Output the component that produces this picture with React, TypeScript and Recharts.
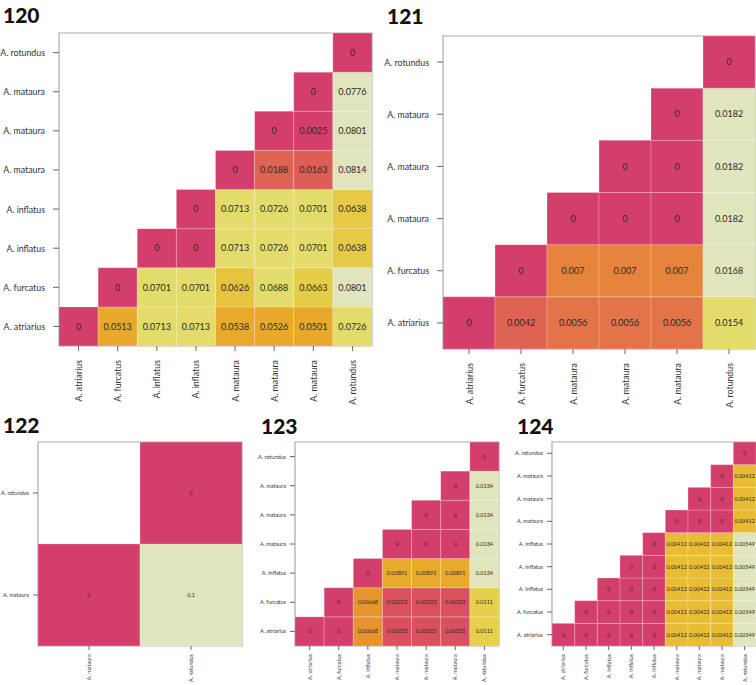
import React from 'react';
import { ScatterChart, XAxis, YAxis, ReferenceArea } from 'recharts';

// ---------- DATA ----------
const labels120 = ['A. atriarius', 'A. furcatus', 'A. inflatus', 'A. inflatus', 'A. mataura', 'A. mataura', 'A. mataura', 'A. rotundus'];
const values120 = [
  [0, 0.0513, 0.0713, 0.0713, 0.0538, 0.0526, 0.0501, 0.0726],
  [0, 0.0701, 0.0701, 0.0626, 0.0688, 0.0663, 0.0801],
  [0, 0, 0.0713, 0.0726, 0.0701, 0.0638],
  [0, 0.0713, 0.0726, 0.0701, 0.0638],
  [0, 0.0188, 0.0163, 0.0814],
  [0, 0.0025, 0.0801],
  [0, 0.0776],
  [0],
];

const labels121 = ['A. atriarius', 'A. furcatus', 'A. mataura', 'A. mataura', 'A. mataura', 'A. rotundus'];
const values121 = [
  [0, 0.0042, 0.0056, 0.0056, 0.0056, 0.0154],
  [0, 0.007, 0.007, 0.007, 0.0168],
  [0, 0, 0, 0.0182],
  [0, 0, 0.0182],
  [0, 0.0182],
  [0],
];

const labels122 = ['A. mataura', 'A. rotundus'];
const values122 = [
  [0, 0.1],
  [0],
];

const labels123 = ['A. atriarius', 'A. furcatus', 'A. inflatus', 'A. mataura', 'A. mataura', 'A. mataura', 'A. rotundus'];
const values123 = [
  [0, 0, 0.00668, 0.00223, 0.00223, 0.00223, 0.0111],
  [0, 0.00668, 0.00223, 0.00223, 0.00223, 0.0111],
  [0, 0.00891, 0.00891, 0.00891, 0.0134],
  [0, 0, 0, 0.0134],
  [0, 0, 0.0134],
  [0, 0.0134],
  [0],
];

const labels124 = ['A. atriarius', 'A. furcatus', 'A. inflatus', 'A. inflatus', 'A. inflatus', 'A. mataura', 'A. mataura', 'A. mataura', 'A. rotundus'];
const values124 = [
  [0, 0, 0, 0, 0, 0.00412, 0.00412, 0.00412, 0.00549],
  [0, 0, 0, 0, 0.00412, 0.00412, 0.00412, 0.00549],
  [0, 0, 0, 0.00412, 0.00412, 0.00412, 0.00549],
  [0, 0, 0.00412, 0.00412, 0.00412, 0.00549],
  [0, 0.00412, 0.00412, 0.00412, 0.00549],
  [0, 0, 0, 0.00412],
  [0, 0, 0.00412],
  [0, 0.00412],
  [0],
];

const panelTitles = ['120', '121', '122', '123', '124'];

// ---------- STYLE ----------
const FONT = 'Lato, "Open Sans", sans-serif';

const heatStops: [number, string][] = [
  [0, '#D33F6A'],
  [0.1, '#D33F6A'],
  [0.166, '#D9515E'],
  [0.2, '#DD5E55'],
  [0.23, '#DF6352'],
  [0.31, '#E3744A'],
  [0.385, '#E5843A'],
  [0.5, '#E79430'],
  [0.6, '#E8A82A'],
  [0.665, '#E8AA2A'],
  [0.75, '#E8BC35'],
  [0.78, '#E6C945'],
  [0.83, '#E6CF4A'],
  [0.845, '#E3DC6A'],
  [0.895, '#E3DC6A'],
  [0.92, '#E1E5BD'],
  [1, '#E1E5BD'],
];

function hexToRgb(h: string) {
  const n = parseInt(h.slice(1), 16);
  return [(n >> 16) & 255, (n >> 8) & 255, n & 255];
}

function heatColor(f: number) {
  for (let i = 1; i < heatStops.length; i++) {
    const [f1, c1] = heatStops[i];
    const [f0, c0] = heatStops[i - 1];
    if (f <= f1) {
      const t = f1 === f0 ? 0 : (f - f0) / (f1 - f0);
      const a = hexToRgb(c0);
      const b = hexToRgb(c1);
      const m = a.map((v, k) => Math.round(v + (b[k] - v) * t));
      return `rgb(${m[0]},${m[1]},${m[2]})`;
    }
  }
  return heatStops[heatStops.length - 1][1];
}

type Cfg = {
  left: number; top: number; width: number; height: number;
  mTop: number; mRight: number; mBottom: number;
  yw: number; xh: number;
  axisFs: number; cellFs: number;
  yTickSize: number; yTickMargin: number;
  xTickSize: number; xTickMargin: number;
};

function XTick(props: any) {
  const { x, y, payload, labels, fs } = props;
  return (
    <text
      x={x}
      y={y}
      transform={`rotate(-90, ${x}, ${y})`}
      textAnchor="end"
      dominantBaseline="central"
      fontSize={fs}
      fill="#333"
      fontFamily={FONT}
    >
      {labels[payload.value - 1]}
    </text>
  );
}

function YTick(props: any) {
  const { x, y, payload, labels, fs } = props;
  return (
    <text
      x={x}
      y={y}
      textAnchor="end"
      dominantBaseline="central"
      fontSize={fs}
      fill="#333"
      fontFamily={FONT}
    >
      {labels[payload.value - 1]}
    </text>
  );
}

function Heatmap({ labels, values, cfg }: { labels: string[]; values: number[][]; cfg: Cfg }) {
  const n = labels.length;
  const ticks = labels.map((_, i) => i + 1);
  let max = 0;
  values.forEach((r) => r.forEach((v) => { if (v > max) max = v; }));
  const cells: { x: number; y: number; v: number }[] = [];
  values.forEach((r, i) => r.forEach((v, k) => cells.push({ x: i + k + 1, y: i + 1, v })));
  return (
    <div style={{ position: 'absolute', left: cfg.left, top: cfg.top }}>
      <ScatterChart
        width={cfg.width}
        height={cfg.height}
        margin={{ top: cfg.mTop, right: cfg.mRight, bottom: cfg.mBottom, left: 0 }}
      >
        <XAxis
          type="number"
          dataKey="x"
          domain={[0.5, n + 0.5]}
          ticks={ticks}
          interval={0}
          allowDataOverflow
          height={cfg.xh}
          axisLine={false}
          tickLine={{ stroke: '#666' }}
          tickSize={cfg.xTickSize}
          tickMargin={cfg.xTickMargin}
          tick={(p: any) => <XTick {...p} labels={labels} fs={cfg.axisFs} />}
        />
        <YAxis
          type="number"
          dataKey="y"
          domain={[0.5, n + 0.5]}
          ticks={ticks}
          interval={0}
          allowDataOverflow
          width={cfg.yw}
          axisLine={false}
          tickLine={{ stroke: '#666' }}
          tickSize={cfg.yTickSize}
          tickMargin={cfg.yTickMargin}
          tick={(p: any) => <YTick {...p} labels={labels} fs={cfg.axisFs} />}
        />
        <ReferenceArea
          x1={0.5}
          x2={n + 0.5}
          y1={0.5}
          y2={n + 0.5}
          fill="#ffffff"
          fillOpacity={1}
          stroke="#aaaaaa"
          strokeWidth={1.2}
        />
        {cells.map((c, idx) => (
          <ReferenceArea
            key={idx}
            x1={c.x - 0.5}
            x2={c.x + 0.5}
            y1={c.y - 0.5}
            y2={c.y + 0.5}
            fill={heatColor(max > 0 ? c.v / max : 0)}
            fillOpacity={1}
            stroke="rgba(255,255,255,0.22)"
            strokeWidth={1}
            label={{
              value: String(c.v),
              position: 'center',
              fontSize: cfg.cellFs,
              fill: '#2a2a2a',
              fontFamily: FONT,
            }}
          />
        ))}
      </ScatterChart>
    </div>
  );
}

const big = { axisFs: 8.8, cellFs: 9, yTickSize: 6, yTickMargin: 8, xTickSize: 5, xTickMargin: 9 };
const small = { axisFs: 5.5, cellFs: 5.5, yTickSize: 5, yTickMargin: 4, xTickSize: 4, xTickMargin: 4 };

const cfg120: Cfg = { left: 0, top: 0, width: 380, height: 410, mTop: 33, mRight: 8, mBottom: 4, yw: 59, xh: 60, ...big };
const cfg121: Cfg = { left: 370, top: 0, width: 386, height: 420, mTop: 36, mRight: 1, mBottom: 11, yw: 73, xh: 60, ...big };
const cfg122: Cfg = { left: 0, top: 400, width: 250, height: 285, mTop: 42, mRight: 8, mBottom: 3, yw: 38, xh: 36, ...small };
const cfg123: Cfg = { left: 250, top: 400, width: 255, height: 285, mTop: 42, mRight: 6, mBottom: 3, yw: 45, xh: 36, ...small };
const cfg124: Cfg = { left: 505, top: 400, width: 251, height: 285, mTop: 42, mRight: 0, mBottom: 3, yw: 47, xh: 36, ...small };

const titlePos = [
  { x: 3, y: 23 },
  { x: 387, y: 24 },
  { x: 3, y: 433 },
  { x: 261, y: 434 },
  { x: 517, y: 434 },
];

export default function App() {
  return (
    <div style={{ position: 'absolute', left: 0, top: 0, width: 756, height: 685, background: '#fff', overflow: 'hidden' }}>
      <Heatmap labels={labels120} values={values120} cfg={cfg120} />
      <Heatmap labels={labels121} values={values121} cfg={cfg121} />
      <Heatmap labels={labels122} values={values122} cfg={cfg122} />
      <Heatmap labels={labels123} values={values123} cfg={cfg123} />
      <Heatmap labels={labels124} values={values124} cfg={cfg124} />
      <svg width={756} height={685} style={{ position: 'absolute', left: 0, top: 0, pointerEvents: 'none' }}>
        {panelTitles.map((t, i) => (
          <text key={t} x={titlePos[i].x} y={titlePos[i].y} fontSize={21} fontWeight={900} fontFamily={FONT} fill="#111">
            {t}
          </text>
        ))}
      </svg>
    </div>
  );
}
